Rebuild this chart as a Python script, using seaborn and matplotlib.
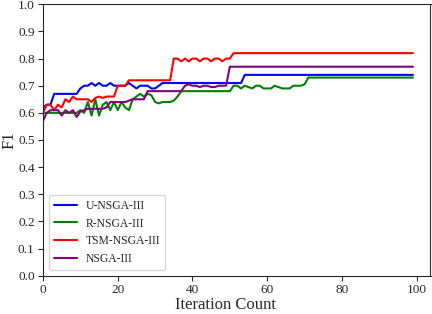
import numpy as np
import pandas as pd
import seaborn as sns
import matplotlib
matplotlib.use("Agg")
import matplotlib.pyplot as plt

# F1 per iteration
iterations = list(range(100))

u_nsga3 = ([0.62, 0.63, 0.63]
           + [0.67] * 7
           + [0.69, 0.70, 0.70, 0.71, 0.70, 0.71, 0.70, 0.70, 0.71, 0.70]
           + [0.70, 0.70, 0.70, 0.71, 0.70, 0.69, 0.70, 0.70, 0.70, 0.69, 0.69, 0.70]
           + [0.71] * 22
           + [0.74] * 46)

r_nsga3 = ([0.60] * 10
           + [0.61, 0.60, 0.64, 0.59, 0.65, 0.59, 0.63, 0.64, 0.61, 0.64]
           + [0.61, 0.64, 0.62, 0.61, 0.65, 0.66, 0.67, 0.66, 0.67, 0.665]
           + [0.64, 0.635, 0.64, 0.64, 0.64, 0.645, 0.66]
           + [0.68] * 14
           + [0.70, 0.70, 0.69, 0.70, 0.695, 0.69, 0.70, 0.70, 0.69, 0.69,
              0.69, 0.70, 0.695, 0.69, 0.69, 0.69, 0.70, 0.70, 0.70, 0.705]
           + [0.73] * 29)

tsm_nsga3 = ([0.60, 0.63, 0.63, 0.61, 0.63, 0.62, 0.65, 0.64, 0.66, 0.65]
             + [0.65, 0.65, 0.65, 0.64, 0.655, 0.66, 0.655, 0.66, 0.66, 0.66]
             + [0.70, 0.70, 0.70]
             + [0.72] * 12
             + [0.80, 0.80, 0.79, 0.80, 0.79, 0.80, 0.80, 0.79,
                0.80, 0.80, 0.79, 0.80, 0.80, 0.79, 0.80, 0.80]
             + [0.82] * 49)

nsga3 = ([0.57, 0.60, 0.61, 0.61, 0.61, 0.59, 0.61, 0.60, 0.61, 0.585]
         + [0.605, 0.61, 0.615, 0.615, 0.615, 0.615, 0.615, 0.62]
         + [0.64] * 5
         + [0.645, 0.65, 0.65, 0.65, 0.65]
         + [0.68] * 10
         + [0.70, 0.705, 0.70, 0.70, 0.695, 0.70, 0.70, 0.695, 0.695, 0.70, 0.70, 0.70]
         + [0.77] * 50)

series_names = ["U-NSGA-III", "R-NSGA-III", "TSM-NSGA-III", "NSGA-III"]
series_values = [u_nsga3, r_nsga3, tsm_nsga3, nsga3]
colors = ["blue", "green", "red", "purple"]

df = pd.concat([
    pd.DataFrame({"iter": iterations, "f1": vals, "algo": name})
    for name, vals in zip(series_names, series_values)
], ignore_index=True)

sns.set_style("ticks")
plt.rcParams["font.family"] = ["Liberation Serif", "DejaVu Serif"]

fig, ax = plt.subplots(figsize=(4.32, 3.14), dpi=100)
fig.subplots_adjust(left=43 / 432, right=430.5 / 432, top=1 - 4.3 / 314, bottom=1 - 275.7 / 314)

sns.lineplot(
    data=df
    , x="iter"
    , y="f1"
    , hue="algo"
    , hue_order=series_names
    , palette=dict(zip(series_names, colors))
    , linewidth=1.5
    , ax=ax
)

ax.set_xlim(0, 103.7)
ax.set_ylim(0, 1.0)
ax.set_xticks(range(0, 101, 20))
ax.set_yticks(np.arange(0, 1.01, 0.1))
ax.set_yticklabels([f"{t:.1f}" for t in np.arange(0, 1.01, 0.1)])
ax.tick_params(labelsize=9.5, length=3.5, pad=2.5)
ax.set_xlabel("Iteration Count", fontsize=12)
ax.set_ylabel("F1", fontsize=12)
ax.xaxis.set_label_coords(0.47, -0.08)
ax.yaxis.set_label_coords(-0.066, 0.5)
ax.legend(loc="lower left", fontsize=8.4, title=None)

fig.savefig("out.png", dpi=100)
